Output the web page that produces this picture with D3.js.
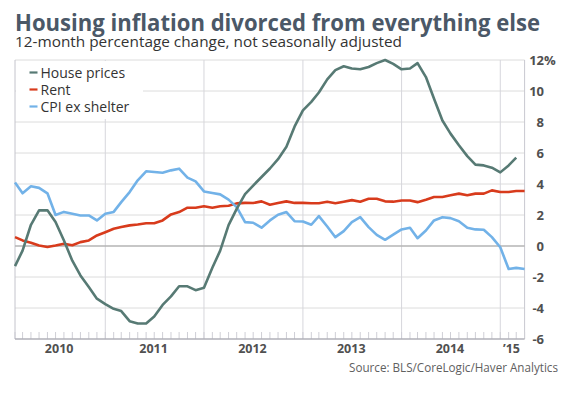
<!DOCTYPE html>
<html>
<head>
<meta charset="utf-8">
<script src="https://cdn.jsdelivr.net/npm/d3@7"></script>
<style>
  body { margin: 0; background: #fff; }
  text { font-family: "Open Sans", sans-serif; }
</style>
</head>
<body>
<script>
// monthly, Feb 2010 .. Apr 2015
var startMonth = new Date(2010, 1, 1);
var endMonth = new Date(2015, 3, 1);
var months = d3.timeMonth.range(startMonth, d3.timeMonth.offset(endMonth, 1));

var housePrices = [-1.3, -0.3, 1.37, 2.3, 2.3, 1.55, 0.35, -0.95, -1.9, -2.65, -3.4, -3.75, -4.05, -4.2,
  -4.85, -5.0, -5.0, -4.55, -3.8, -3.25, -2.6, -2.6, -2.85, -2.7, -1.4, -0.3, 1.35, 2.4, 3.35, 3.9,
  4.45, 5.0, 5.6, 6.4, 7.7, 8.75, 9.3, 9.9, 10.75, 11.35, 11.6, 11.45, 11.4, 11.55, 11.8, 12.0,
  11.75, 11.4, 11.45, 11.8, 10.9, 9.5, 8.1, 7.25, 6.5, 5.8, 5.25, 5.2, 5.05, 4.75, 5.2, 5.7];
var rent = [0.57, 0.36, 0.21, 0.03, -0.06, 0.03, 0.14, 0.05, 0.25, 0.36, 0.68, 0.89, 1.11, 1.22,
  1.33, 1.39, 1.47, 1.47, 1.65, 2.04, 2.19, 2.47, 2.47, 2.56, 2.47, 2.56, 2.6, 2.75, 2.78, 2.77,
  2.88, 2.66, 2.77, 2.88, 2.78, 2.78, 2.76, 2.76, 2.85, 2.76, 2.86, 2.96, 2.86, 3.05, 3.05, 2.88,
  2.86, 2.94, 2.94, 2.83, 2.99, 3.16, 3.16, 3.27, 3.38, 3.27, 3.38, 3.38, 3.59, 3.48, 3.48, 3.55, 3.55];
var cpiExShelter = [4.1, 3.4, 3.85, 3.75, 3.4, 2.0, 2.2, 2.08, 1.97, 1.97, 1.65, 2.08, 2.2, 2.83,
  3.48, 4.24, 4.82, 4.77, 4.73, 4.88, 4.99, 4.41, 4.17, 3.52, 3.42, 3.33, 2.99, 2.51, 1.54, 1.5,
  1.18, 1.65, 2.02, 2.19, 1.6, 1.58, 1.37, 1.93, 1.26, 0.57, 0.96, 1.54, 1.86, 1.22, 0.72, 0.4,
  0.73, 1.07, 1.18, 0.5, 1.0, 1.65, 1.86, 1.8, 1.6, 1.18, 1.07, 1.05, 0.57, -0.08, -1.48, -1.41, -1.48];

var seriesNames = ["House prices", "Rent", "CPI ex shelter"];
var seriesColors = ["#577a74", "#d83b1c", "#72b2e8"];
var yTicks = [-6, -4, -2, 0, 2, 4, 6, 8, 10, 12];
var yearLabels = ["2010", "2011", "2012", "2013", "2014", "\u201915"];

var width = 569, height = 398;
var x = d3.scaleTime().domain([startMonth, endMonth]).range([15, 524.6]);
var y = d3.scaleLinear().domain([-6, 12]).range([339, 60]);

var svg = d3.select("body").append("svg")
  .attr("width", width)
  .attr("height", height);

// title
svg.append("text")
  .attr("x", 15).attr("y", 31)
  .attr("font-size", "24px").attr("font-weight", "bold")
  .attr("fill", "#4b5867")
  .attr("textLength", 525).attr("lengthAdjust", "spacingAndGlyphs")
  .text("Housing inflation divorced from everything else");
svg.append("text")
  .attr("x", 15).attr("y", 47)
  .attr("font-size", "14px")
  .attr("fill", "#333")
  .attr("textLength", 387).attr("lengthAdjust", "spacingAndGlyphs")
  .text("12-month percentage change, not seasonally adjusted");

// horizontal grid
svg.append("g").selectAll("line").data(yTicks.filter((d) => d != 0 && d != -6))
  .enter().append("line")
  .attr("x1", 15).attr("x2", 524.6)
  .attr("y1", (d) => y(d)).attr("y2", (d) => y(d))
  .attr("stroke", "#dcdcdc").attr("stroke-width", 1);

// vertical year grid
var yearStarts = d3.timeYear.range(new Date(2011, 0, 1), endMonth);
svg.append("g").selectAll("line").data(yearStarts)
  .enter().append("line")
  .attr("x1", (d) => x(d)).attr("x2", (d) => x(d))
  .attr("y1", y(12)).attr("y2", y(-6))
  .attr("stroke", "#d6d6dc").attr("stroke-width", 1);

// frame left / right
svg.append("line").attr("x1", 15).attr("x2", 15).attr("y1", y(12)).attr("y2", y(-6))
  .attr("stroke", "#c4c4cc");
svg.append("line").attr("x1", 524.6).attr("x2", 524.6).attr("y1", y(12)).attr("y2", y(-6))
  .attr("stroke", "#c8c8d0");

// zero line
svg.append("line").attr("x1", 15).attr("x2", 524.6).attr("y1", y(0)).attr("y2", y(0))
  .attr("stroke", "#b4b4b4").attr("stroke-width", 1.6);

// month ticks + bottom axis
svg.append("g").selectAll("line").data(months)
  .enter().append("line")
  .attr("x1", (d) => x(d)).attr("x2", (d) => x(d))
  .attr("y1", y(-6)).attr("y2", y(-6) - 7)
  .attr("stroke", "#cfcfd6");
svg.append("line").attr("x1", 15).attr("x2", 524.6).attr("y1", y(-6)).attr("y2", y(-6))
  .attr("stroke", "#b0b0b8").attr("stroke-width", 1.4);

// year labels centred on the visible part of each year
svg.append("g").selectAll("text").data(yearLabels)
  .enter().append("text")
  .attr("x", (d, i) => {
    var a = Math.max(x.range()[0], x(new Date(2010 + i, 0, 1)));
    var b = Math.min(x.range()[1], x(new Date(2011 + i, 0, 1)));
    return (a + b) / 2 - 1;
  })
  .attr("y", 353)
  .attr("text-anchor", "middle")
  .attr("font-size", "12.5px").attr("font-weight", "bold")
  .attr("fill", "#505050")
  .text((d) => d);

// right axis labels
svg.append("g").selectAll("text").data(yTicks)
  .enter().append("text")
  .attr("x", 544)
  .attr("y", (d) => y(d))
  .attr("dy", "0.35em")
  .attr("text-anchor", "end")
  .attr("font-size", "13px").attr("font-weight", "bold")
  .attr("fill", "#505050")
  .text((d) => d);
svg.append("text")
  .attr("x", 544).attr("y", y(12)).attr("dy", "0.35em")
  .attr("font-size", "13px").attr("font-weight", "bold")
  .attr("fill", "#505050")
  .text("%");

// lines
var line = d3.line()
  .x((d, i) => x(months[i]))
  .y((d) => y(d));
[housePrices, rent, cpiExShelter].forEach((s, k) => {
  svg.append("path")
    .attr("d", line(s))
    .attr("fill", "none")
    .attr("stroke", seriesColors[k])
    .attr("stroke-width", 2.6)
    .attr("stroke-linejoin", "round");
});
// keep the green line on top where it crosses
svg.select("path").raise();

// legend
svg.append("rect")
  .attr("x", 16).attr("y", 61)
  .attr("width", 127).attr("height", 58)
  .attr("fill", "#fff");
var legend = svg.append("g").selectAll("g").data(seriesNames)
  .enter().append("g")
  .attr("transform", (d, i) => "translate(0," + (72.5 + i * 17) + ")");
legend.append("line")
  .attr("x1", 29.5).attr("x2", 37.5)
  .attr("stroke", (d, i) => seriesColors[i])
  .attr("stroke-width", 2.2);
legend.append("text")
  .attr("x", 40.5).attr("y", 0)
  .attr("dy", "0.36em")
  .attr("font-size", "14px")
  .attr("fill", "#333")
  .text((d) => d);

// source
svg.append("text")
  .attr("x", 558).attr("y", 372)
  .attr("text-anchor", "end")
  .attr("font-size", "12px")
  .attr("fill", "#606060")
  .attr("textLength", 209).attr("lengthAdjust", "spacingAndGlyphs")
  .text("Source: BLS/CoreLogic/Haver Analytics");
</script>
</body>
</html>
